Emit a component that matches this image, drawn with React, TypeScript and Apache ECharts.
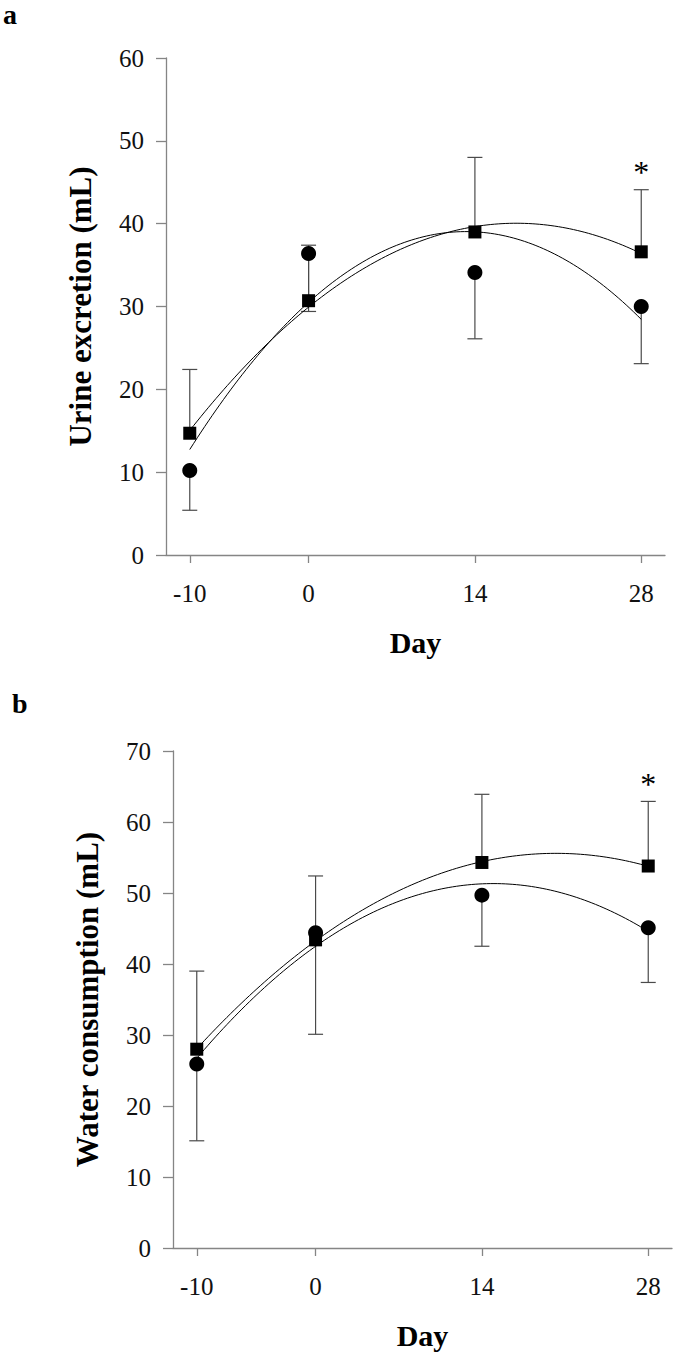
import React, { useEffect, useRef } from "react";
import * as echarts from "echarts";

// Days (x values) and tick labels
const days = [-10, 0, 14, 28];
const dayTicks = [-10, 0, 14, 28];

// Panel a: Urine excretion (mL)
const urineSquare = [14.7, 30.7, 39.0, 36.6];
const urineSquareSD = [7.7, 6.7, 9.0, 7.5]; // drawn upward
const urineCircle = [10.2, 36.4, 34.1, 30.0];
const urineCircleSD = [4.8, 7.0, 8.0, 6.9]; // drawn downward

// Panel b: Water consumption (mL)
const waterSquare = [28.0, 43.4, 54.3, 53.8];
const waterSquareSD = [11.0, 9.0, 9.6, 9.1];
const waterCircle = [25.9, 44.4, 49.7, 45.1];
const waterCircleSD = [10.8, 14.3, 7.2, 7.7];

// Significance markers (index of day)
const urineStarIdx = [3];
const waterStarIdx = [3];

const FONT = '"Liberation Serif", "Times New Roman", serif';

// least-squares quadratic trendline through the data
function quadFit(xs: number[], ys: number[]) {
  let n = xs.length, s1 = 0, s2 = 0, s3 = 0, s4 = 0, t0 = 0, t1 = 0, t2 = 0;
  for (let i = 0; i < n; i++) {
    const x = xs[i], y = ys[i];
    s1 += x; s2 += x * x; s3 += x * x * x; s4 += x * x * x * x;
    t0 += y; t1 += x * y; t2 += x * x * y;
  }
  const M = [
    [n, s1, s2],
    [s1, s2, s3],
    [s2, s3, s4],
  ];
  const det3 = (m: number[][]) =>
    m[0][0] * (m[1][1] * m[2][2] - m[1][2] * m[2][1]) -
    m[0][1] * (m[1][0] * m[2][2] - m[1][2] * m[2][0]) +
    m[0][2] * (m[1][0] * m[2][1] - m[1][1] * m[2][0]);
  const D = det3(M);
  const rhs = [t0, t1, t2];
  const coef = [0, 1, 2].map((k) => {
    const mk = M.map((row, r) => row.map((v, c) => (c === k ? rhs[r] : v)));
    return det3(mk) / D;
  });
  return (x: number) => coef[0] + coef[1] * x + coef[2] * x * x;
}

function trendData(xs: number[], ys: number[]) {
  const f = quadFit(xs, ys);
  const out: number[][] = [];
  const x0 = xs[0], x1 = xs[xs.length - 1];
  const steps = 120;
  for (let i = 0; i <= steps; i++) {
    const x = x0 + ((x1 - x0) * i) / steps;
    out.push([x, f(x)]);
  }
  return out;
}

const errRender = (params: any, api: any) => {
  const x = api.value(0);
  const p1 = api.coord([x, api.value(1)]);
  const p2 = api.coord([x, api.value(2)]);
  const hw = 7.5;
  const style = { stroke: "#4a4a4a", lineWidth: 1.2 };
  return {
    type: "group",
    children: [
      { type: "line", shape: { x1: p1[0], y1: p1[1], x2: p2[0], y2: p2[1] }, style },
      { type: "line", shape: { x1: p2[0] - hw, y1: p2[1], x2: p2[0] + hw, y2: p2[1] }, style },
    ],
  };
};

function panelSeries(
  idx: number,
  sq: number[],
  sqSD: number[],
  ci: number[],
  ciSD: number[],
  star: number[]
) {
  return [
    {
      type: "custom",
      xAxisIndex: idx,
      yAxisIndex: idx,
      renderItem: errRender,
      data: days.map((d, i) => [d, sq[i], sq[i] + sqSD[i]]),
      z: 1,
      silent: true,
    },
    {
      type: "custom",
      xAxisIndex: idx,
      yAxisIndex: idx,
      renderItem: errRender,
      data: days.map((d, i) => [d, ci[i], ci[i] - ciSD[i]]),
      z: 1,
      silent: true,
    },
    {
      type: "line",
      xAxisIndex: idx,
      yAxisIndex: idx,
      data: trendData(days, sq),
      showSymbol: false,
      lineStyle: { color: "#000", width: 1 },
      z: 2,
      silent: true,
    },
    {
      type: "line",
      xAxisIndex: idx,
      yAxisIndex: idx,
      data: trendData(days, ci),
      showSymbol: false,
      lineStyle: { color: "#000", width: 1 },
      z: 2,
      silent: true,
    },
    {
      type: "scatter",
      xAxisIndex: idx,
      yAxisIndex: idx,
      symbol: "circle",
      symbolSize: 15,
      itemStyle: { color: "#000", opacity: 1 },
      data: days.map((d, i) => [d, ci[i]]),
      z: 3,
    },
    {
      type: "scatter",
      xAxisIndex: idx,
      yAxisIndex: idx,
      symbol: "rect",
      symbolSize: 13,
      itemStyle: { color: "#000", opacity: 1 },
      data: days.map((d, i) => [d, sq[i]]),
      z: 4,
    },
    {
      type: "scatter",
      xAxisIndex: idx,
      yAxisIndex: idx,
      symbolSize: 1,
      itemStyle: { color: "rgba(0,0,0,0)", opacity: 1 },
      label: {
        show: true,
        position: "top",
        distance: 1,
        formatter: "*",
        fontFamily: FONT,
        fontSize: 32,
        color: "#000",
        opacity: 1,
      },
      data: star.map((i) => [days[i], sq[i] + sqSD[i]]),
      z: 5,
    },
  ];
}

const axisColor = "#858585";

function xAxisCfg(gridIndex: number) {
  return {
    type: "value",
    gridIndex,
    min: -12,
    max: 30,
    name: "Day",
    nameLocation: "middle",
    nameGap: 72,
    nameTextStyle: { fontFamily: FONT, fontSize: 30, fontWeight: "bold", color: "#000" },
    axisLine: { show: true, onZero: false, lineStyle: { color: axisColor, width: 1.3 } },
    axisTick: { show: true, inside: false, length: 8, customValues: dayTicks, lineStyle: { color: axisColor, width: 1.3 } },
    axisLabel: { customValues: dayTicks, margin: 26, fontFamily: FONT, fontSize: 25, color: "#111" },
    splitLine: { show: false },
  };
}

function yAxisCfg(gridIndex: number, max: number, name: string) {
  return {
    type: "value",
    gridIndex,
    min: 0,
    max,
    interval: 10,
    name,
    nameLocation: "middle",
    nameGap: 70,
    nameRotate: 90,
    nameTextStyle: { fontFamily: FONT, fontSize: 31, fontWeight: "bold", color: "#000" },
    axisLine: { show: true, onZero: false, lineStyle: { color: axisColor, width: 1.3 } },
    axisTick: { show: true, inside: false, length: 10, lineStyle: { color: axisColor, width: 1.3 } },
    axisLabel: { margin: 22, fontFamily: FONT, fontSize: 25, color: "#111" },
    splitLine: { show: false },
  };
}

export default function App() {
  const ref = useRef<HTMLDivElement>(null);
  useEffect(() => {
    if (!ref.current) return;
    const chart = echarts.init(ref.current, undefined, { renderer: "svg" });
    chart.setOption({
      animation: false,
      backgroundColor: "#fff",
      grid: [
        { left: 166, top: 58, width: 499, height: 497 },
        { left: 173, top: 751, width: 499, height: 497 },
      ],
      xAxis: [xAxisCfg(0), xAxisCfg(1)],
      yAxis: [
        yAxisCfg(0, 60, "Urine excretion (mL)"),
        yAxisCfg(1, 70, "Water consumption (mL)"),
      ],
      graphic: [
        {
          type: "text",
          left: 3,
          top: 0,
          style: { text: "a", font: `bold 28px ${FONT}`, fill: "#000" },
        },
        {
          type: "text",
          left: 12,
          top: 689,
          style: { text: "b", font: `bold 28px ${FONT}`, fill: "#000" },
        },
      ],
      series: [
        ...panelSeries(0, urineSquare, urineSquareSD, urineCircle, urineCircleSD, urineStarIdx),
        ...panelSeries(1, waterSquare, waterSquareSD, waterCircle, waterCircleSD, waterStarIdx),
      ],
    });
    return () => chart.dispose();
  }, []);
  return (
    <div
      ref={ref}
      style={{ position: "absolute", left: 0, top: 0, width: 675, height: 1355, background: "#fff" }}
    />
  );
}
